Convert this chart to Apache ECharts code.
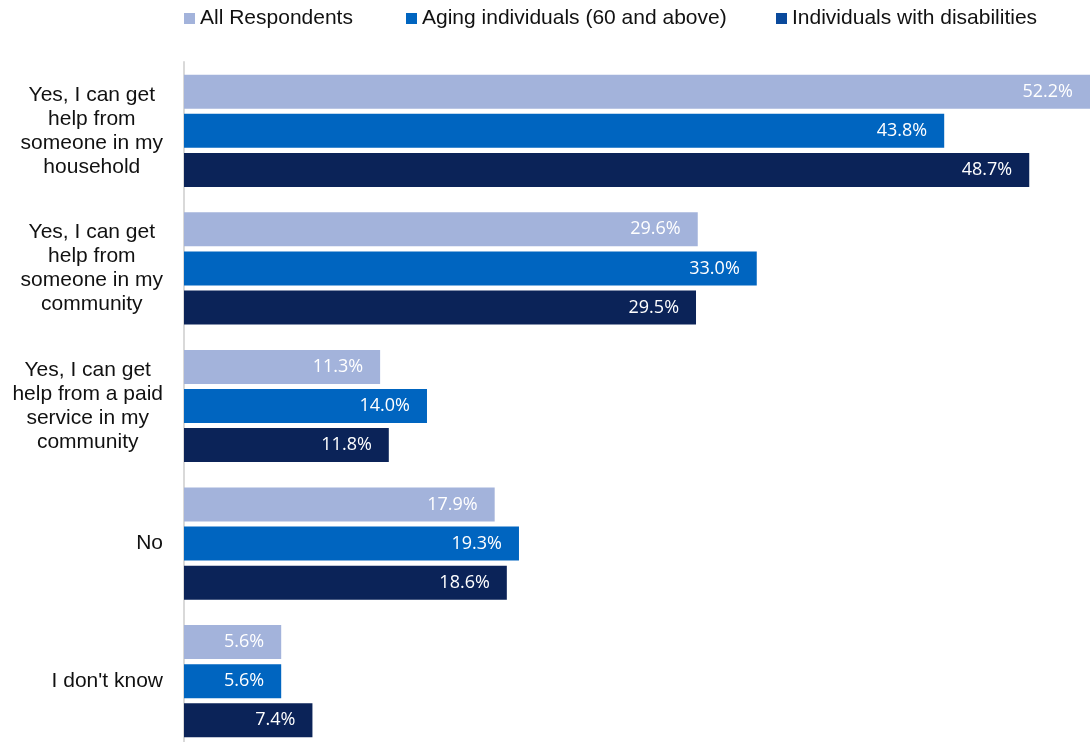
<!DOCTYPE html>
<html>
<head>
<meta charset="utf-8">
<script src="https://cdn.jsdelivr.net/npm/echarts@6/dist/echarts.min.js"></script>
<style>
  html, body { margin: 0; padding: 0; background: #fff; overflow: hidden; }
  #chart { width: 1091px; height: 750px; }
</style>
</head>
<body>
<div id="chart"></div>
<script>
// chart data
const categories = [
  'Yes, I can get\nhelp from\nsomeone in my\nhousehold',
  'Yes, I can get\nhelp from\nsomeone in my\ncommunity',
  'Yes, I can get\nhelp from a paid\nservice in my\ncommunity',
  'No',
  "I don't know"
];
const seriesNames = ['All Respondents', 'Aging individuals (60 and above)', 'Individuals with disabilities'];
const allRespondents = [52.2, 29.6, 11.3, 17.9, 5.6];
const agingIndividuals = [43.8, 33.0, 14.0, 19.3, 5.6];
const withDisabilities = [48.7, 29.5, 11.8, 18.6, 7.4];

const barColors = ['#A3B3DB', '#0065C0', '#0B2358'];
const legendColors = ['#A3B3DB', '#0065C0', '#0A4A9C'];
const legendLefts = [179, 401, 771];

const chart = echarts.init(document.getElementById('chart'));

const makeSeries = (name, data, color) => ({
  name: name,
  type: 'bar',
  data: data,
  barWidth: 34,
  barGap: '15%',
  itemStyle: { color: color },
  label: {
    show: true,
    position: 'insideRight',
    distance: 17,
    color: '#fff',
    fontFamily: 'Open Sans',
    fontSize: 18,
    formatter: p => p.value.toFixed(1) + '%'
  }
});

const option = {
  animation: false,
  legend: seriesNames.map((name, i) => ({
    left: legendLefts[i],
    top: 3,
    itemWidth: 11,
    itemHeight: 11,
    itemGap: 0,
    icon: 'rect',
    data: [{ name: name, itemStyle: { color: legendColors[i] } }],
    textStyle: { fontFamily: 'Liberation Sans', fontSize: 21, color: '#111' }
  })),
  grid: { left: 184, right: 1, top: 62, bottom: 0 },
  xAxis: {
    type: 'value',
    min: 0,
    max: 52.2,
    show: false,
    splitLine: { show: false }
  },
  yAxis: {
    type: 'category',
    inverse: true,
    data: categories,
    axisTick: { show: false },
    axisLine: { show: true, lineStyle: { color: '#D9D9D9', width: 2 } },
    axisLabel: {
      margin: 21,
      align: 'right',
      formatter: v => v.split('\n').map(s => '{c|' + s + '}').join('\n'),
      rich: {
        c: {
          align: 'center',
          fontFamily: 'Liberation Sans',
          fontSize: 21,
          lineHeight: 24,
          color: '#111'
        }
      }
    }
  },
  series: [
    makeSeries(seriesNames[0], allRespondents, barColors[0]),
    makeSeries(seriesNames[1], agingIndividuals, barColors[1]),
    makeSeries(seriesNames[2], withDisabilities, barColors[2])
  ]
};

chart.setOption(option);
</script>
</body>
</html>
